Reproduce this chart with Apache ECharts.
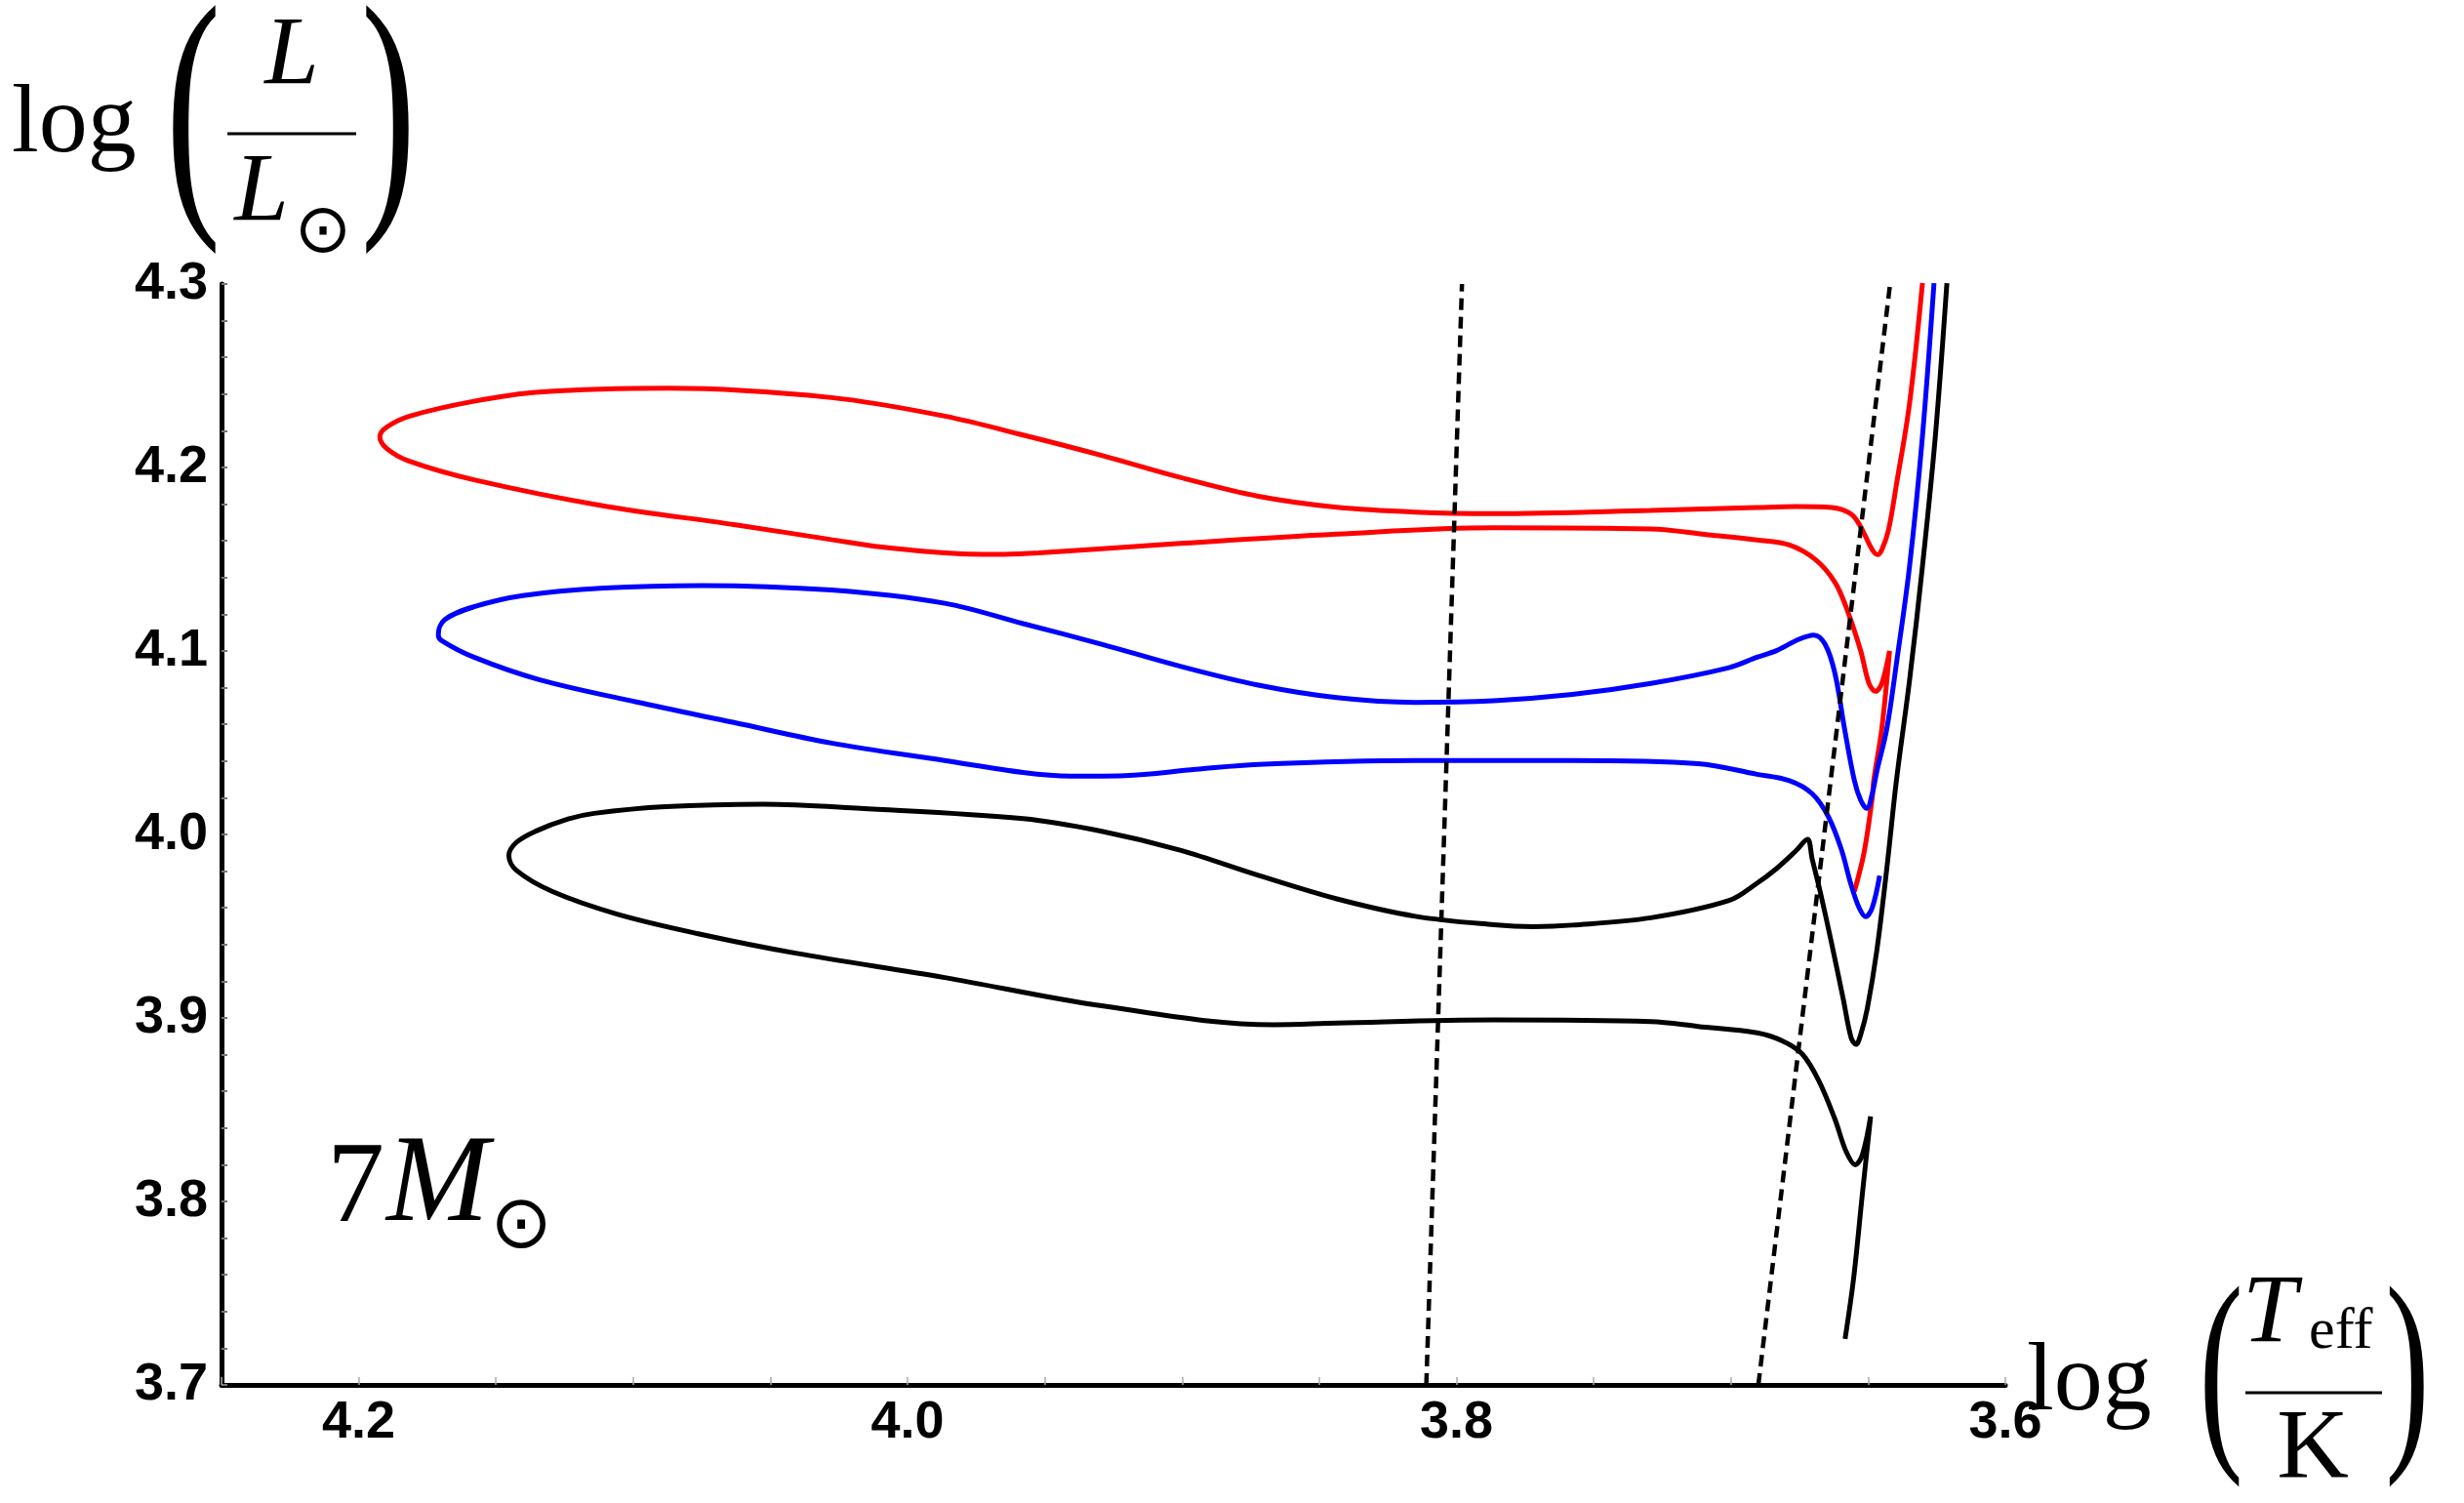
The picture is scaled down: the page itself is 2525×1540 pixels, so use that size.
<!DOCTYPE html>
<html>
<head>
<meta charset="utf-8">
<title>7 Msun tracks</title>
<script src="https://cdn.jsdelivr.net/npm/echarts@6/dist/echarts.min.js"></script>
<style>
  html, body { margin: 0; padding: 0; background: #fff; }
  #main { width: 2525px; height: 1540px; }
</style>
</head>
<body>
<div id="main"></div>
<script>
// axis ranges (x is log Teff, drawn reversed)
const xMin = 3.6, xMax = 4.25;
const yMin = 3.7, yMax = 4.3;

// red track: log Teff / log L, in path order
const redTeff = [3.655, 3.6515, 3.6485, 3.648, 3.645, 3.6422, 3.645, 3.6473, 3.6497, 3.6527,
  3.6574, 3.6621, 3.6692, 3.6787, 3.6905, 3.7083, 3.7292, 3.7864, 3.8436, 3.9007,
  3.9522, 3.965, 3.9779, 3.99, 4.0094, 4.0278, 4.0633, 4.1106, 4.158, 4.1817, 4.19, 4.1923,
  4.19, 4.1817, 4.158, 4.1343, 4.087, 4.0278, 3.9865, 3.9579, 3.9293, 3.9007,
  3.8722, 3.8436, 3.815, 3.7864, 3.7292, 3.6905, 3.6763, 3.6633, 3.6562, 3.6527,
  3.6485, 3.6465, 3.645, 3.6426, 3.6397, 3.6349, 3.6302];
const redLum = [3.969, 3.990, 4.020, 4.029, 4.058, 4.100, 4.0824, 4.078, 4.0824, 4.100,
  4.1214, 4.1374, 4.1498, 4.1578, 4.1605, 4.1633, 4.1665, 4.1671, 4.1637, 4.1586,
  4.1534, 4.1527, 4.1528, 4.1538, 4.1566, 4.1607, 4.1689, 4.179, 4.1933, 4.2035, 4.2106, 4.2167,
  4.2218, 4.2279, 4.2361, 4.2411, 4.2432, 4.2381, 4.228, 4.2177, 4.2066, 4.1946,
  4.1843, 4.1783, 4.1757, 4.1749, 4.1766, 4.1782, 4.1787, 4.1782, 4.1746, 4.1676,
  4.1552, 4.1525, 4.1552, 4.1658, 4.1906, 4.235, 4.3005];

// blue track
const blueTeff = [3.6458, 3.6485, 3.6509, 3.6533, 3.6562, 3.6598, 3.6645, 3.6704, 3.6787, 3.6905,
  3.712, 3.7578, 3.815, 3.8722, 3.895, 3.9208, 3.9407, 3.9579, 3.9865, 4.0278,
  4.0633, 4.0988, 4.1343, 4.158, 4.1698, 4.171, 4.1687, 4.158, 4.1402, 4.1106,
  4.0751, 4.0278, 3.9865, 3.9579, 3.9293, 3.9007, 3.8722, 3.8436, 3.815, 3.7864,
  3.7578, 3.7292, 3.7007, 3.6905, 3.6834, 3.6752, 3.6698, 3.6657, 3.6621, 3.6586,
  3.655, 3.6527, 3.6505, 3.6485, 3.6468, 3.6432, 3.6397, 3.6349, 3.6302, 3.626];
const blueLum = [3.9775, 3.9601, 3.9552, 3.9601, 3.9725, 3.992, 4.0097, 4.0222, 4.0293, 4.0328,
  4.0386, 4.0403, 4.0403, 4.0382, 4.0355, 4.0321, 4.0318, 4.0338, 4.0403, 4.0498,
  4.061, 4.0722, 4.0844, 4.0966, 4.1057, 4.1088, 4.117, 4.1241, 4.1302, 4.1343,
  4.1357, 4.1332, 4.126, 4.1149, 4.1037, 4.0917, 4.0814, 4.0746, 4.072, 4.0729,
  4.0763, 4.0823, 4.0909, 4.0966, 4.1002, 4.1064, 4.1087, 4.1037, 4.0878, 4.0576,
  4.0293, 4.0186, 4.0142, 4.0222, 4.0346, 4.0576, 4.0931, 4.1463, 4.2172, 4.3005];

// black track
const blackTeff = [3.6584, 3.6553, 3.6521, 3.6491, 3.6521, 3.6547, 3.658, 3.6621, 3.6681, 3.674,
  3.6811, 3.6905, 3.712, 3.7292, 3.7864, 3.8436, 3.8665, 3.9293, 3.9865, 4.0408,
  4.0763, 4.1059, 4.1296, 4.1426, 4.1453, 4.1426, 4.1355, 4.1237, 4.1142, 4.0882,
  4.0527, 4.0172, 3.9579, 3.9293, 3.9007, 3.8722, 3.8436, 3.815, 3.7864, 3.772, 3.7578,
  3.7292, 3.7007, 3.6905, 3.6834, 3.6763, 3.6721, 3.6704, 3.6675, 3.6633, 3.6591,
  3.6562, 3.6544, 3.6527, 3.6503, 3.6468, 3.6432, 3.6397, 3.6349, 3.6302, 3.6255, 3.6213];
const blackLum = [3.7251, 3.758, 3.8041, 3.8463, 3.8254, 3.82, 3.8271, 3.8448, 3.8661, 3.8803,
  3.8874, 3.8919, 3.8954, 3.898, 3.8989, 3.8972, 3.8963, 3.9066, 3.922, 3.9353,
  3.9459, 3.9566, 3.969, 3.9805, 3.9885, 3.9956, 4.0018, 4.0084, 4.0115, 4.0151,
  4.0165, 4.0142, 4.0086, 4.0017, 3.9914, 3.9777, 3.9649, 3.9554, 3.9508, 3.9498, 3.9506,
  3.9546, 3.964, 3.9734, 3.9814, 3.9911, 3.9973, 3.9867, 3.969, 3.9406, 3.9105,
  3.8892, 3.8856, 3.891, 3.9052, 3.9371, 3.9814, 4.0293, 4.0842, 4.1463, 4.2172, 4.3005];

// the two dashed lines (end points)
const dashATeff = [3.811, 3.798];
const dashALum = [3.7, 4.3];
const dashBTeff = [3.690, 3.642];
const dashBLum = [3.7, 4.3];

function zip(xs, ys) {
  return xs.map((x, i) => [x, ys[i]]);
}

// label only every 0.2 / 0.1, ticks at every step
function every(step) {
  return function (v) {
    const k = v / step;
    return Math.abs(k - Math.round(k)) < 1e-6 ? v.toFixed(1) : '';
  };
}

const serif = '"Liberation Serif", "DejaVu Serif", serif';
const sym = '"DejaVu Sans", "Noto Sans", sans-serif';

// text placed by its baseline (middle of em box is ~0.34em above baseline)
function txt(x, base, text, size, opts) {
  opts = opts || {};
  return {
    type: 'text',
    x: x,
    y: base - 0.34 * size,
    scaleX: opts.scaleX || 1,
    silent: true,
    style: {
      text: text,
      fontSize: size,
      fontFamily: opts.family || serif,
      fontStyle: opts.italic ? 'italic' : 'normal',
      fill: '#000',
      align: opts.align || 'left',
      verticalAlign: 'middle'
    }
  };
}

function bar(x1, x2, y) {
  return {
    type: 'line',
    silent: true,
    shape: { x1: x1, y1: y, x2: x2, y2: y },
    style: { stroke: '#000', lineWidth: 3 }
  };
}

const chart = echarts.init(document.getElementById('main'));

const labelFont = {
  color: '#000',
  fontFamily: '"Liberation Sans", Arial, sans-serif',
  fontWeight: 'bold',
  fontSize: 54
};

const trackLine = { showSymbol: false, smooth: 0.35, type: 'line' };

chart.setOption({
  animation: false,
  backgroundColor: '#fff',
  grid: { left: 227, right: 470, top: 291, bottom: 121, containLabel: false, outerBoundsMode: 'none' },
  xAxis: {
    type: 'value',
    min: xMin,
    max: xMax,
    interval: 0.05,
    inverse: true,
    axisLine: { onZero: false, lineStyle: { color: '#000', width: 5 } },
    axisTick: { inside: true, length: 8, lineStyle: { color: '#aaa', width: 1.5 } },
    splitLine: { show: false },
    axisLabel: Object.assign({ formatter: every(0.2), margin: 12 }, labelFont)
  },
  yAxis: {
    type: 'value',
    min: yMin,
    max: yMax,
    interval: 0.02,
    axisLine: { show: true, onZero: false, lineStyle: { color: '#000', width: 5 } },
    axisTick: { show: true, inside: true, length: 6, lineStyle: { color: '#777', width: 2 } },
    splitLine: { show: false },
    axisLabel: Object.assign({ formatter: every(0.1), margin: 14 }, labelFont)
  },
  series: [
    Object.assign({ data: zip(blackTeff, blackLum), lineStyle: { color: '#000', width: 5 }, z: 2 }, trackLine),
    Object.assign({ data: zip(redTeff, redLum), lineStyle: { color: '#ff0000', width: 5 }, z: 3 }, trackLine),
    Object.assign({ data: zip(blueTeff, blueLum), lineStyle: { color: '#0000ff', width: 5 }, z: 4 }, trackLine),
    {
      type: 'line', data: zip(dashATeff, dashALum), showSymbol: false,
      lineStyle: { color: '#000', width: 4.5, type: [12, 7] }, z: 5
    },
    {
      type: 'line', data: zip(dashBTeff, dashBLum), showSymbol: false,
      lineStyle: { color: '#000', width: 4.5, type: [12, 7] }, z: 5
    }
  ],
  graphic: [
    // y title: log(L / L_sun)
    txt(12, 163, 'log', 100),
    txt(198, 222, '(', 281, { align: 'center', scaleX: 0.6 }),
    txt(398, 222, ')', 281, { align: 'center', scaleX: 0.6 }),
    txt(299, 93, 'L', 100, { italic: true, align: 'center' }),
    bar(233, 365, 137),
    txt(268, 233, 'L', 100, { italic: true, align: 'center' }),
    txt(331, 264, '\u2299', 70, { family: sym, align: 'center' }),
    // x title: log(T_eff / K)
    txt(2077, 1452, 'log', 100),
    txt(2276, 1492, '(', 226, { align: 'center', scaleX: 0.6 }),
    txt(2467, 1492, ')', 226, { align: 'center', scaleX: 0.6 }),
    txt(2298, 1382, 'T', 100, { italic: true }),
    txt(2366, 1386, 'eff', 60),
    bar(2301, 2441, 1427),
    txt(2370, 1522, 'K', 102, { align: 'center' }),
    // mass label
    txt(335, 1260, '7', 118),
    txt(396, 1260, 'M', 126, { italic: true }),
    txt(534, 1284, '\u2299', 76, { family: sym, align: 'center' })
  ]
});
</script>
</body>
</html>
